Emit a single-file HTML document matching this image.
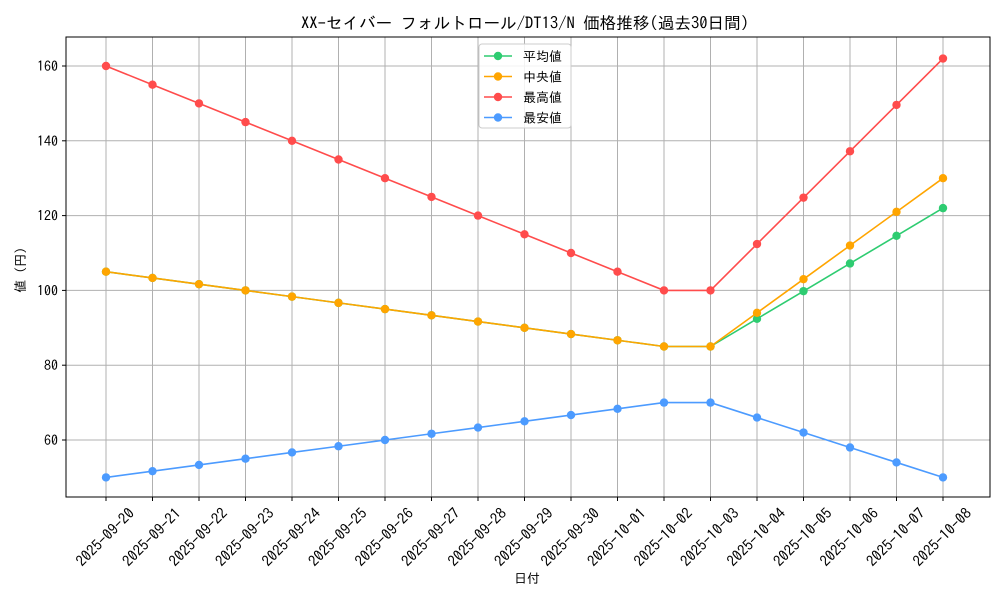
<!DOCTYPE html>
<html><head><meta charset="utf-8"><style>
body{margin:0;background:#fff}
svg{display:block;font-family:"IPAGothic","Noto Sans CJK JP",sans-serif}
</style></head><body>
<svg id="s" width="1000" height="600" xmlns="http://www.w3.org/2000/svg">
<rect width="1000" height="600" fill="#fff"/>
<text x="525" y="29" font-size="16.6" text-anchor="middle" fill="#000">XX-セイバー フォルトロール/DT13/N 価格推移(過去30日間)</text>
<text x="527" y="583" font-size="13" text-anchor="middle">日付</text>
<text transform="translate(25,270) rotate(-90)" font-size="13" text-anchor="middle">値 (円)</text>
<g id="g"></g>
<rect x="66" y="37" width="924" height="460" fill="none" stroke="#000" stroke-width="1"/>
<g id="lg">
<rect x="479" y="44" width="92" height="84" rx="3" fill="#fff" fill-opacity="0.85" stroke="#ccc"/>
</g>
</svg>
<script>
const g=document.getElementById('g'),lg=document.getElementById('lg');
const NS='http://www.w3.org/2000/svg';
function el(t,a,p,txt){const e=document.createElementNS(NS,t);for(const k in a)e.setAttribute(k,a[k]);if(txt)e.textContent=txt;(p||g).appendChild(e);return e;}
const X=i=>106+i*46.5, Y=v=>440-(v-60)*3.74;
const dates=[];for(let i=0;i<19;i++){const d=new Date(Date.UTC(2025,8,20+i));dates.push(d.toISOString().slice(0,10));}
for(let i=0;i<19;i++){el('line',{x1:X(i),x2:X(i),y1:37,y2:497,stroke:'#b0b0b0','stroke-width':1});
el('line',{x1:X(i),x2:X(i),y1:497,y2:501,stroke:'#000'});
el('text',{transform:`translate(${X(i)-1},${537}) rotate(-45)`,'font-size':15,'text-anchor':'middle','dominant-baseline':'central'},g,dates[i]);}
for(let v=60;v<=160;v+=20){el('line',{x1:66,x2:990,y1:Y(v),y2:Y(v),stroke:'#b0b0b0'});
el('line',{x1:62,x2:66,y1:Y(v),y2:Y(v),stroke:'#000'});
el('text',{x:58,y:Y(v)+5,'font-size':14,'text-anchor':'end'},g,String(v));}
const desc=(a,b)=>Array.from({length:13},(_,i)=>a+(b-a)*i/12);
const avg=desc(105,85).concat([85,92.4,99.8,107.2,114.6,122]);
const med=desc(105,85).concat([85,94,103,112,121,130]);
const mx=desc(160,100).concat([100,112.4,124.8,137.2,149.6,162]);
const mn=desc(50,70).concat([70,66,62,58,54,50]);
const S=[[avg,'#2ecc71','平均値'],[med,'#ffa500','中央値'],[mx,'#ff4c4c','最高値'],[mn,'#4c9bff','最安値']];
S.forEach(([d,c])=>{el('polyline',{points:d.map((v,i)=>X(i)+','+Y(v)).join(' '),fill:'none',stroke:c,'stroke-width':1.6});
d.forEach((v,i)=>el('circle',{cx:X(i),cy:Y(v),r:4.2,fill:c}));});
S.forEach(([d,c,n],k)=>{const y=56+k*20.5;el('line',{x1:484,x2:512,y1:y,y2:y,stroke:c,'stroke-width':1.6},lg);
el('circle',{cx:498,cy:y,r:4.2,fill:c},lg);el('text',{x:523,y:y+5,'font-size':13},lg,n);});
</script>
</body></html>
